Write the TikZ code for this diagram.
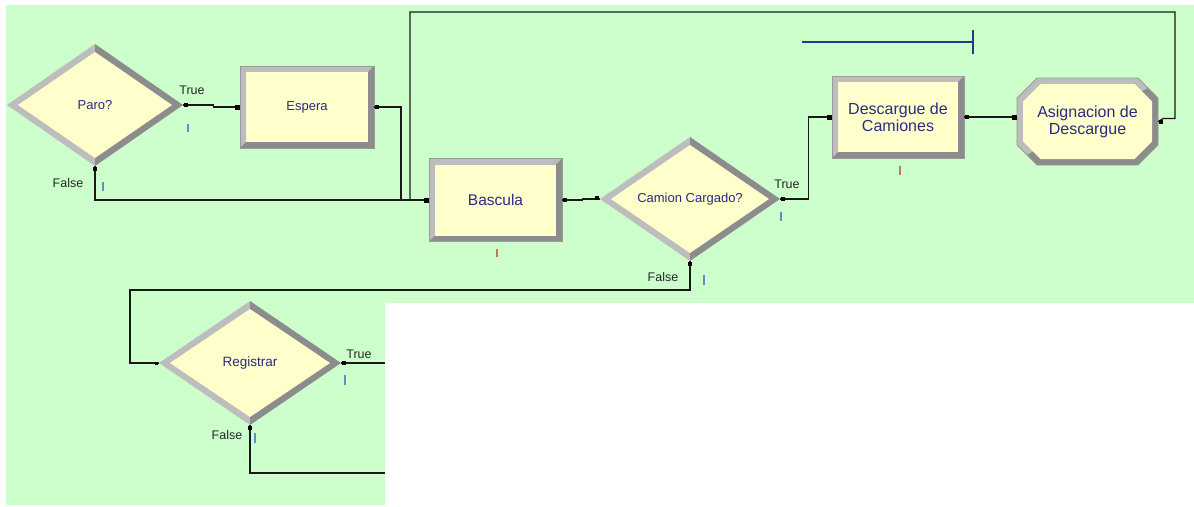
\documentclass[tikz,border=0pt]{standalone}
\usepackage{fontspec}
\setmainfont{Liberation Sans}
\definecolor{bg}{HTML}{CCFFCC}
\definecolor{yel}{HTML}{FFFFCC}
\definecolor{lgr}{HTML}{BDBDBD}
\definecolor{dgr}{HTML}{8C8C8C}
\definecolor{ogr}{HTML}{9A9A9A}
\definecolor{txtb}{HTML}{2A2A85}
\definecolor{markb}{HTML}{6F86C6}
\definecolor{marko}{HTML}{C07A55}
\definecolor{navyl}{HTML}{1F3C88}
\tikzset{
  conn/.style={draw=black!90, line width=1.3pt},
  lbl/.style={font=\fontsize{12.5}{14}\selectfont, text=black!85, inner sep=0},
  modtext/.style={text=txtb, align=center, inner sep=0},
  qmark/.style={line width=1.8pt},
}
\newcommand\brect[7]{%
  \fill[lgr] ({#2-#4},{#3-#5}) rectangle ({#2+#4},{#3+#5});
  \fill[dgr] ({#2-#4},{#3+#5}) -- ({#2-#4+6},{#3+#5-6}) -- ({#2+#4-6},{#3-#5+6}) -- ({#2+#4},{#3-#5}) -- ({#2+#4},{#3+#5}) -- cycle;
  \fill[yel] ({#2-#4+6},{#3-#5+6}) rectangle ({#2+#4-6},{#3+#5-6});
  \draw[ogr, line width=0.8pt] ({#2-#4},{#3-#5}) rectangle ({#2+#4},{#3+#5});
  \node[modtext, font=\fontsize{#6}{17}\selectfont, minimum width={2*#4}, minimum height={2*#5}] (#1) at (#2,#3) {#7};
}
\newcommand\bdiam[7]{%
  \fill[lgr] (#2,{#3-#5}) -- ({#2-#4},#3) -- (#2,{#3+#5}) -- cycle;
  \fill[dgr] (#2,{#3-#5}) -- ({#2+#4},#3) -- (#2,{#3+#5}) -- cycle;
  \fill[yel] (#2,{#3-#5+8}) -- ({#2-#4+11},#3) -- (#2,{#3+#5-8}) -- ({#2+#4-11},#3) -- cycle;
  \node[modtext, font=\fontsize{#6}{16}\selectfont, minimum width={2*#4}, minimum height={2*#5}] (#1) at (#2,#3) {#7};
}
\newcommand\entryW[1]{\fill (#1.west) ++(-5,-2.5) rectangle ++(5,5);}
\newcommand\exitE[1]{\fill (#1.east) ++(1,-2) rectangle ++(3.5,4);}
\newcommand\exitS[1]{\fill (#1.south) ++(-2,1) rectangle ++(4,3.5);}
\begin{document}
\begin{tikzpicture}[x=1pt,y=-1pt]
\useasboundingbox (0,0) rectangle (1194,506);
\fill[white] (0,0) rectangle (1194,506);
\fill[bg] (6,5) -- (1194,5) -- (1194,303) -- (385,303) -- (385,505) -- (6,505) -- cycle;

% modules
\bdiam{paro}{95}{105}{88}{61}{13}{Paro?}
\brect{espera}{307}{107}{67}{41}{13}{Espera}
\brect{bascula}{495.5}{200}{66.5}{41.5}{15.5}{Bascula}
\bdiam{camion}{690}{199}{90}{62}{13}{Camion Cargado?}
\brect{desc}{898}{117}{66}{41}{16}{Descargue de\\Camiones}
\bdiam{reg}{250}{363}{91}{62}{13.5}{Registrar}

% octagon
\fill[lgr] (1037,78) -- (1138,78) -- (1158,98) -- (1158,145) -- (1138,165) -- (1037,165) -- (1017,145) -- (1017,98) -- cycle;
\fill[dgr] (1148,88) -- (1158,98) -- (1158,145) -- (1138,165) -- (1037,165) -- (1027,155) -- cycle;
\fill[yel] (1040.5,84) -- (1134.5,84) -- (1152,101.5) -- (1152,141.5) -- (1134.5,159) -- (1040.5,159) -- (1023,141.5) -- (1023,101.5) -- cycle;
\draw[ogr, line width=0.8pt] (1037,78) -- (1138,78) -- (1158,98) -- (1158,145) -- (1138,165) -- (1037,165) -- (1017,145) -- (1017,98) -- cycle;
\node[modtext, font=\fontsize{16}{17}\selectfont, minimum width=141, minimum height=87] (asig) at (1087.5,121.5) {Asignacion de\\Descargue};

% coordinates
\coordinate (j1) at (401,200);
\coordinate (tr) at (1175,12);
\coordinate (tl) at (410,12);
\coordinate (ll) at (130,290);
\coordinate (cT) at (385,363);
\coordinate (cF) at (385,473);

% connectors
\draw[conn] (paro.east) -- ++(30,0) |- (espera.west);
\draw[conn] (espera.east) -| (j1) -- (bascula.west);
\draw[conn] (paro.south) |- (bascula.west);
\draw[conn] (asig.east) -- ++(5,-3) -| (tr) -- (tl) |- (bascula.west);
\draw[conn] (bascula.east) -- ++(20,0) |- (camion.west);
\draw[conn] (camion.east) -- ++(28,0) |- (desc.west);
\draw[conn] (desc.east) -- (desc.east -| asig.west);
\draw[conn] (camion.south) |- (ll) |- (reg.west);
\draw[conn] (reg.east) -- (cT);
\draw[conn] (reg.south) |- (cF);

% entry / exit points
\entryW{espera}\entryW{bascula}\entryW{desc}
\fill ([xshift=-5pt]desc.east -| asig.west) ++(0,-2.5) rectangle ++(5,5);
\fill (camion.west) ++(-5,-3) rectangle ++(4,4);
\fill (reg.west) ++(-4,-1.5) rectangle ++(3,3);
\exitE{paro}\exitE{espera}\exitE{bascula}\exitE{camion}\exitE{desc}\exitE{asig}\exitE{reg}
\exitS{paro}\exitS{camion}\exitS{reg}

% queue markers
\draw[markb, qmark] (188,124) -- (188,132);
\draw[markb, qmark] (103,182) -- (103,191);
\draw[marko, qmark] (497,249) -- (497,257);
\draw[markb, qmark] (781,212) -- (781,221);
\draw[markb, qmark] (704,275) -- (704,285);
\draw[marko, qmark] (900,166) -- (900,175);
\draw[markb, qmark] (345,375) -- (345,385);
\draw[markb, qmark] (255,433) -- (255,443);

% labels
\node[lbl] (pT) at (192,90) {True};
\node[lbl] (pF) at (68,183) {False};
\node[lbl] (cTl) at (787,184) {True};
\node[lbl] (cFl) at (663,277) {False};
\node[lbl] (rT) at (359,354) {True};
\node[lbl] (rF) at (227,435) {False};

% blue line
\draw[navyl, line width=1.5pt] (802,42) -- (973,42);
\draw[navyl, line width=1.5pt] (973,30) -- (973,54);
\end{tikzpicture}
\end{document}
